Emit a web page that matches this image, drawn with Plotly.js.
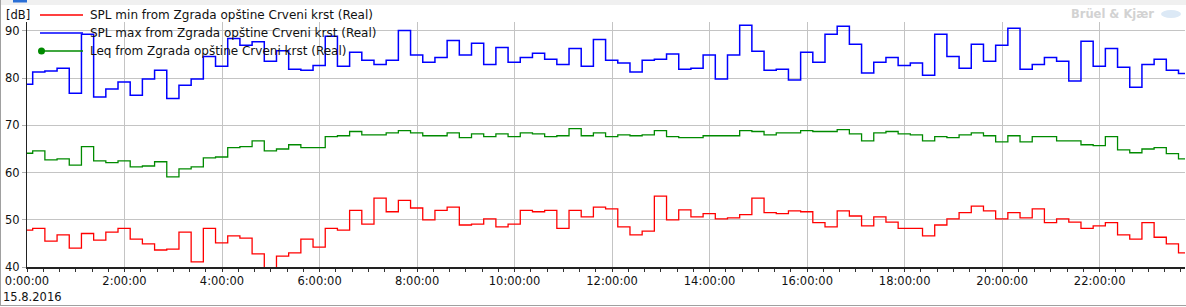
<!DOCTYPE html>
<html>
<head>
<meta charset="utf-8">
<script src="https://cdn.plot.ly/plotly-3.0.1.min.js"></script>
<style>
html,body{margin:0;padding:0;background:#fff;}
#chart{width:1186px;height:307px;}
</style>
</head>
<body>
<div id="chart"></div>
<script>
// ---- Data (15-minute intervals, first interval starts 14.8.2016 23:52) ----
const firstIntervalStart = '2016-08-14T23:52:00Z';
const intervalMinutes = 15;

const splMin = [47.8,48.2,45.5,46.8,44.0,47.1,45.7,47.4,48.2,45.9,44.9,43.6,43.8,47.4,41.1,48.2,
  45.1,46.6,46.1,42.8,39.0,42.3,43.0,45.9,44.2,48.2,47.8,52.0,49.1,54.6,51.7,54.1,
  52.5,50.0,52.0,52.7,48.9,49.1,50.2,48.5,49.1,52.0,51.7,52.0,48.2,52.0,50.6,52.7,
  52.3,48.5,46.8,47.6,55.0,50.0,52.1,50.6,51.3,50.2,50.4,51.1,54.6,51.5,51.3,51.9,
  51.7,49.4,48.5,51.9,50.8,48.7,50.6,49.5,48.2,48.2,46.6,48.9,50.2,51.5,52.9,51.9,
  50.2,51.5,50.4,52.3,49.4,50.2,49.5,48.2,48.7,49.4,46.8,45.9,49.4,46.3,44.9,43.0];

const splMax = [78.7,81.3,81.5,82.1,76.8,89.3,76.0,77.7,79.2,76.4,79.8,81.7,75.7,78.5,79.8,84.6,
  82.5,88.4,87.0,87.7,83.6,85.8,81.9,81.7,82.7,88.9,82.5,85.5,83.8,82.9,83.8,90.1,
  84.9,83.4,84.4,88.0,84.9,87.4,82.9,86.5,83.4,84.4,85.3,84.0,82.9,86.3,82.5,88.2,
  83.8,83.2,81.3,83.8,84.0,85.1,81.9,82.1,84.9,79.8,84.9,91.2,85.7,81.7,81.9,79.6,
  85.5,83.4,89.3,91.0,87.2,81.1,83.4,84.4,82.7,83.2,80.6,89.3,84.6,82.1,87.2,83.6,
  87.0,90.6,81.9,82.9,84.4,83.6,79.4,87.8,82.5,86.3,82.3,78.1,82.9,84.0,81.7,81.0];

const leq = [64.1,64.6,62.7,62.9,61.6,65.5,62.5,62.1,62.5,61.2,61.4,62.3,59.1,60.8,61.2,63.1,
  63.3,65.3,65.5,66.7,64.6,65.0,65.9,65.3,65.3,67.6,67.8,68.7,68.0,68.0,68.4,68.9,
  68.4,67.8,67.8,68.4,67.4,68.2,67.6,68.2,67.6,68.4,68.2,67.6,67.8,69.3,67.8,68.4,
  67.6,68.0,67.8,68.0,68.9,67.6,67.4,67.4,67.8,67.8,67.8,68.9,68.7,68.0,68.4,68.4,
  68.9,68.7,68.7,69.1,68.2,66.7,68.4,68.7,68.2,68.0,66.7,67.6,67.4,68.0,68.4,67.8,
  66.5,67.8,66.5,67.6,67.6,66.7,66.7,65.9,65.7,67.6,64.8,64.2,65.0,65.3,64.0,62.9];

const seriesNames = [
  'SPL min from Zgrada opštine Crveni krst (Real)',
  'SPL max from Zgrada opštine Crveni krst (Real)',
  'Leq from Zgrada opštine Crveni krst (Real)'
];
const yTickValues = [40,50,60,70,80,90];

// ---- Build step x/y (interval starts + closing end point) ----
function fmt(ms){ return new Date(ms).toISOString().slice(0,19).replace('T',' '); }
const base = Date.parse(firstIntervalStart);
function stepXY(vals){
  const x = [], y = [];
  for (let i=0;i<vals.length;i++){ x.push(fmt(base + i*intervalMinutes*60000)); y.push(vals[i]); }
  x.push(fmt(base + vals.length*intervalMinutes*60000)); y.push(vals[vals.length-1]);
  return {x, y};
}

const W = 1186, H = 307;
const L = 27, R = 1, T = 22, B = 40;
const PW = W - L - R, PH = H - T - B;
const px = v => (v - L) / PW;
const py = v => (H - B - v) / PH;

const colors = ['#ff0000', '#0000ff', '#008a00'];
const allVals = [splMin, splMax, leq];
const widths = [1.3, 1.5, 1.3];
// draw order: green, red, blue
const traces = [2,0,1].map(i => {
  const s = stepXY(allVals[i]);
  return {x: s.x, y: s.y, type: 'scatter', mode: 'lines', line: {shape: 'hv', color: colors[i], width: widths[i]},
          name: seriesNames[i], showlegend: false, hoverinfo: 'skip'};
});

const FONT = 'DejaVu Sans, Verdana, sans-serif';
const shapes = [];
const annotations = [];

// custom legend
const legendRows = [15, 33, 51];
for (let i=0;i<3;i++){
  shapes.push({type:'line', xref:'paper', yref:'paper', x0:px(40), x1:px(83), y0:py(legendRows[i]), y1:py(legendRows[i]),
               line:{color:colors[i], width:1.3}});
  annotations.push({xref:'paper', yref:'paper', x:px(88), y:py(legendRows[i]), xanchor:'left', yanchor:'middle',
                    text:seriesNames[i], showarrow:false, font:{family:FONT, size:12, color:'#111'}});
}
shapes.push({type:'circle', xref:'paper', yref:'paper', x0:px(38), x1:px(45), y0:py(54.5), y1:py(47.5),
             fillcolor:colors[2], line:{color:colors[2], width:0}});

// unit label
annotations.push({xref:'paper', yref:'paper', x:px(4), y:py(15), xanchor:'left', yanchor:'middle',
                  text:'[dB]', showarrow:false, font:{family:FONT, size:11.5, color:'#111'}});
// date under first tick
annotations.push({xref:'paper', yref:'paper', x:px(1), y:py(297), xanchor:'left', yanchor:'middle',
                  text:'15.8.2016', showarrow:false, font:{family:FONT, size:11.5, color:'#111'}});
// watermark
annotations.push({xref:'paper', yref:'paper', x:px(1156), y:py(14), xanchor:'right', yanchor:'middle',
                  text:'<b>Brüel & Kjær</b>', showarrow:false, font:{family:FONT, size:11.5, color:'#d2d2d2'}});
shapes.push({type:'circle', xref:'paper', yref:'paper', x0:px(1161), x1:px(1181), y0:py(18), y1:py(10),
             fillcolor:'#dce9f6', line:{width:0}, layer:'below'});

// frame: top strip, left border, bottom border
shapes.push({type:'rect', xref:'paper', yref:'paper', x0:px(0), x1:px(W), y0:py(0), y1:py(5),
             fillcolor:'#f0f0f0', line:{width:0}, layer:'below'});
shapes.push({type:'rect', xref:'paper', yref:'paper', x0:px(13), x1:px(27), y0:py(0), y1:py(2.5),
             fillcolor:'#2a6fd6', line:{width:0}});
shapes.push({type:'line', xref:'paper', yref:'paper', x0:px(0.5), x1:px(0.5), y0:py(0), y1:py(306),
             line:{color:'#a0a0a0', width:1}});
shapes.push({type:'line', xref:'paper', yref:'paper', x0:px(0), x1:px(W), y0:py(305.5), y1:py(305.5),
             line:{color:'#a0a0a0', width:1}});

const layout = {
  width: W, height: H,
  margin: {l: L, r: R, t: T, b: B, pad: 0},
  paper_bgcolor: '#ffffff', plot_bgcolor: '#ffffff',
  font: {family: FONT, size: 11.5, color: '#111'},
  showlegend: false,
  xaxis: {
    type: 'date',
    range: ['2016-08-15 00:00:00', '2016-08-15 23:45:00'],
    tick0: '2016-08-15 00:00:00', dtick: 7200000, tickformat: '%-H:%M:%S',
    showgrid: true, gridcolor: '#c4c4c4', gridwidth: 1,
    showline: true, linecolor: '#222', linewidth: 1.5,
    ticks: 'outside', ticklen: 3, tickcolor: '#333', tickwidth: 1,
    minor: {dtick: 1200000, tick0: '2016-08-15 00:00:00', ticks: 'outside', ticklen: 3, tickcolor: '#333', showgrid: false},
    tickfont: {family: FONT, size: 11.5, color: '#111'},
    zeroline: false, fixedrange: true
  },
  yaxis: {
    range: [40, 91.9],
    tickvals: yTickValues,
    showgrid: true, gridcolor: '#c4c4c4', gridwidth: 1,
    showline: true, linecolor: '#222', linewidth: 1,
    ticks: 'outside', ticklen: 4, tickcolor: '#b0b0b0',
    tickfont: {family: FONT, size: 11.5, color: '#111'},
    zeroline: false, fixedrange: true
  },
  shapes, annotations
};

Plotly.newPlot('chart', traces, layout, {staticPlot: true, displayModeBar: false});
</script>
</body>
</html>
